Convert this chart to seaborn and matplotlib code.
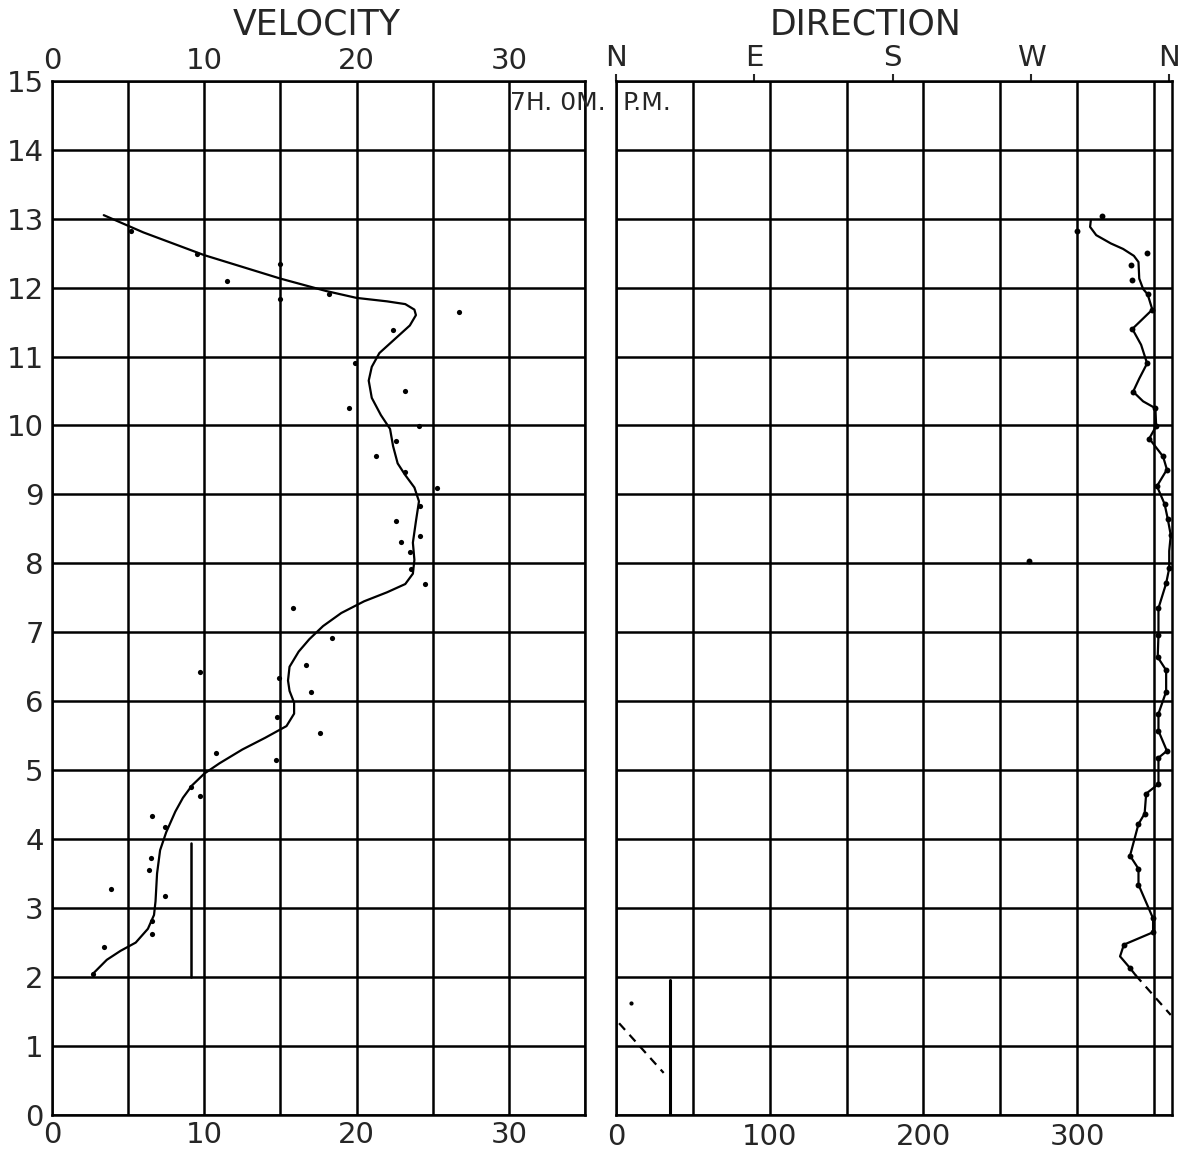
import matplotlib
matplotlib.use("Agg")
import matplotlib.pyplot as plt
import seaborn as sns

# Style
sns.set_style("white")
plt.rcParams["font.family"] = ["DejaVu Sans"]

# Velocity observations (height, velocity)
vel_dots_v = [5.2, 9.5, 11.5, 15.0, 15.0, 18.2, 26.7, 22.4, 19.9, 23.2, 19.5, 24.1,
              22.6, 21.3, 23.2, 25.3, 24.2, 22.6, 24.2, 22.9, 23.5, 23.6, 24.5,
              15.8, 18.4, 9.7, 16.7, 14.9, 17.0, 14.8, 17.6, 10.8, 14.7, 9.1, 9.7,
              6.6, 7.4, 6.5, 6.4, 7.4, 3.9, 6.6, 6.6, 3.4, 2.7]
vel_dots_h = [12.82, 12.49, 12.1, 12.34, 11.84, 11.91, 11.65, 11.39, 10.9, 10.5, 10.25, 9.99,
              9.77, 9.55, 9.33, 9.09, 8.83, 8.62, 8.39, 8.31, 8.16, 7.92, 7.70,
              7.35, 6.92, 6.43, 6.53, 6.34, 6.14, 5.77, 5.54, 5.25, 5.15, 4.76, 4.63,
              4.34, 4.18, 3.73, 3.55, 3.18, 3.28, 2.82, 2.62, 2.43, 2.05]

# Velocity curve
vel_curve_v = [3.4, 6.0, 10.0, 15.0, 18.0, 20.0, 22.0, 23.2, 23.8, 23.9, 23.5, 22.5, 21.5,
               21.0, 20.8, 21.0, 21.6, 22.2, 22.4, 22.7, 23.2, 23.8, 24.1, 23.9, 23.7,
               23.8, 23.7, 23.2, 22.0, 20.5, 19.0, 17.8, 16.9, 16.2, 15.6, 15.5, 15.6,
               15.9, 15.9, 15.4, 14.0, 12.5, 11.0, 10.0, 9.2, 8.6, 8.1, 7.5, 7.1, 6.9,
               6.8, 6.7, 6.3, 5.5, 4.5, 3.6, 2.7]
vel_curve_h = [13.05, 12.8, 12.47, 12.13, 11.95, 11.85, 11.8, 11.76, 11.68, 11.6, 11.45, 11.25, 11.05,
               10.85, 10.65, 10.4, 10.15, 9.95, 9.7, 9.45, 9.28, 9.1, 8.9, 8.61, 8.3,
               8.05, 7.85, 7.7, 7.58, 7.45, 7.28, 7.09, 6.9, 6.72, 6.5, 6.3, 6.15,
               5.98, 5.82, 5.64, 5.47, 5.3, 5.1, 4.95, 4.78, 4.6, 4.4, 4.1, 3.84, 3.5,
               3.1, 2.9, 2.7, 2.5, 2.38, 2.25, 2.05]

# Direction observations (degrees)
dir_dots_d = [316, 300, 345.6, 335, 336, 346, 349, 336, 345.6, 336.5, 351, 351.5, 347,
              356, 358.5, 352, 357, 359, 361, 360, 358, 353, 353, 352.5, 358, 358,
              353, 353, 358.5, 353, 353, 345, 344, 340, 334.5, 340, 340, 349.5,
              349.5, 330.5, 334.5, 269]
dir_dots_h = [13.04, 12.82, 12.5, 12.32, 12.11, 11.9, 11.68, 11.4, 10.9, 10.49, 10.25, 9.99, 9.81,
              9.55, 9.36, 9.12, 8.86, 8.65, 8.41, 7.93, 7.71, 7.35, 6.96, 6.64, 6.45, 6.14,
              5.82, 5.57, 5.28, 5.18, 4.8, 4.66, 4.37, 4.22, 3.76, 3.57, 3.34, 2.85,
              2.65, 2.47, 2.13, 8.03]

# Direction curve
dir_curve_d = [309, 308.5, 312.5, 322, 330, 337, 340, 340.5, 343, 346, 349, 336, 341.7,
               345.6, 340.5, 336.5, 343, 351, 351.5, 347, 356, 358.5, 352, 357, 359, 361,
               360, 360, 358, 353, 353, 352.5, 358, 358, 353, 353, 358.5, 353, 353, 345,
               344, 340, 334.5, 340, 340, 349.5, 349.5, 330.5, 328, 334.5, 338]
dir_curve_h = [12.98, 12.88, 12.76, 12.64, 12.56, 12.46, 12.37, 12.13, 11.98, 11.9, 11.68, 11.4, 11.17,
               10.9, 10.68, 10.49, 10.35, 10.25, 9.99, 9.81, 9.55, 9.36, 9.12, 8.86, 8.65, 8.41,
               8.18, 7.93, 7.71, 7.35, 6.96, 6.64, 6.45, 6.14, 5.82, 5.57, 5.28, 5.18, 4.8, 4.66,
               4.37, 4.22, 3.76, 3.57, 3.34, 2.85, 2.65, 2.47, 2.3, 2.13, 2.03]

# Dashed extrapolations
dash_top_d = [338, 361]
dash_top_h = [2.03, 1.45]
dash_low_d = [2, 31]
dash_low_h = [1.33, 0.61]

heights = list(range(0, 16))
vel_ticks = list(range(0, 36, 5))
vel_labels = ["0", "", "10", "", "20", "", "30", ""]
dir_ticks = list(range(0, 351, 50))
dir_labels = ["0", "", "100", "", "200", "", "300", ""]
compass_ticks = [0, 90, 180, 270, 360]
compass_labels = ["N", "E", "S", "W", "N"]

fig = plt.figure(figsize=(11.95, 11.53), dpi=100)
ax1 = fig.add_axes([0.0435, 0.033, 0.446, 0.897])
ax2 = fig.add_axes([0.5155, 0.033, 0.4655, 0.897])

lw = 1.8
tick_font = 21

for ax in (ax1, ax2):
    ax.set_ylim(0, 15)
    ax.set_yticks(heights)
    ax.grid(True, color="black", linewidth=lw)
    for s in ax.spines.values():
        s.set_color("black")
        s.set_linewidth(lw)
    ax.tick_params(length=0, labelsize=tick_font, pad=6)
    ax.set_xlabel("")
    ax.set_ylabel("")

# Velocity panel
sns.lineplot(x=vel_curve_v, y=vel_curve_h, sort=False, estimator=None,
             color="black", linewidth=1.6, ax=ax1)
sns.scatterplot(x=vel_dots_v, y=vel_dots_h, color="black", s=14, linewidth=0, ax=ax1)
ax1.plot([9.1, 9.1], [2.0, 3.95], color="black", linewidth=1.8)
ax1.set_xlim(0, 35)
ax1.set_xticks(vel_ticks)
ax1.set_xticklabels(vel_labels)
ax1.tick_params(axis="x", labeltop=True, labelbottom=True, pad=4)
ax1.set_yticklabels([str(h) for h in heights])
ax1.text(30.1, 14.68, "7H. 0M.", fontsize=18, va="center", ha="left")

# Direction panel
sns.lineplot(x=dir_curve_d, y=dir_curve_h, sort=False, estimator=None,
             color="black", linewidth=1.6, ax=ax2)
sns.scatterplot(x=dir_dots_d, y=dir_dots_h, color="black", s=18, linewidth=0, ax=ax2)
ax2.plot(dash_top_d, dash_top_h, color="black", linewidth=1.6, linestyle=(0, (4, 3)))
ax2.plot(dash_low_d, dash_low_h, color="black", linewidth=1.6, linestyle=(0, (4, 3)))
ax2.plot([35, 35], [0, 1.95], color="black", linewidth=2.2)
ax2.scatter([9.7], [1.62], color="black", s=4)
ax2.set_xlim(0, 362)
ax2.set_xticks(dir_ticks)
ax2.set_xticklabels(dir_labels)
ax2.set_yticklabels([])
ax2.text(4, 14.68, "P.M.", fontsize=18, va="center", ha="left")
top = ax2.secondary_xaxis("top")
top.set_xticks(compass_ticks)
top.set_xticklabels(compass_labels)
top.tick_params(length=5, width=1.5, labelsize=tick_font, pad=1)
top.spines["top"].set_visible(False)

# Titles
fig.text(0.265, 0.979, "VELOCITY", fontsize=25, ha="center", va="center")
fig.text(0.724, 0.979, "DIRECTION", fontsize=25, ha="center", va="center")

plt.savefig("out.png", dpi=100)
plt.close()
